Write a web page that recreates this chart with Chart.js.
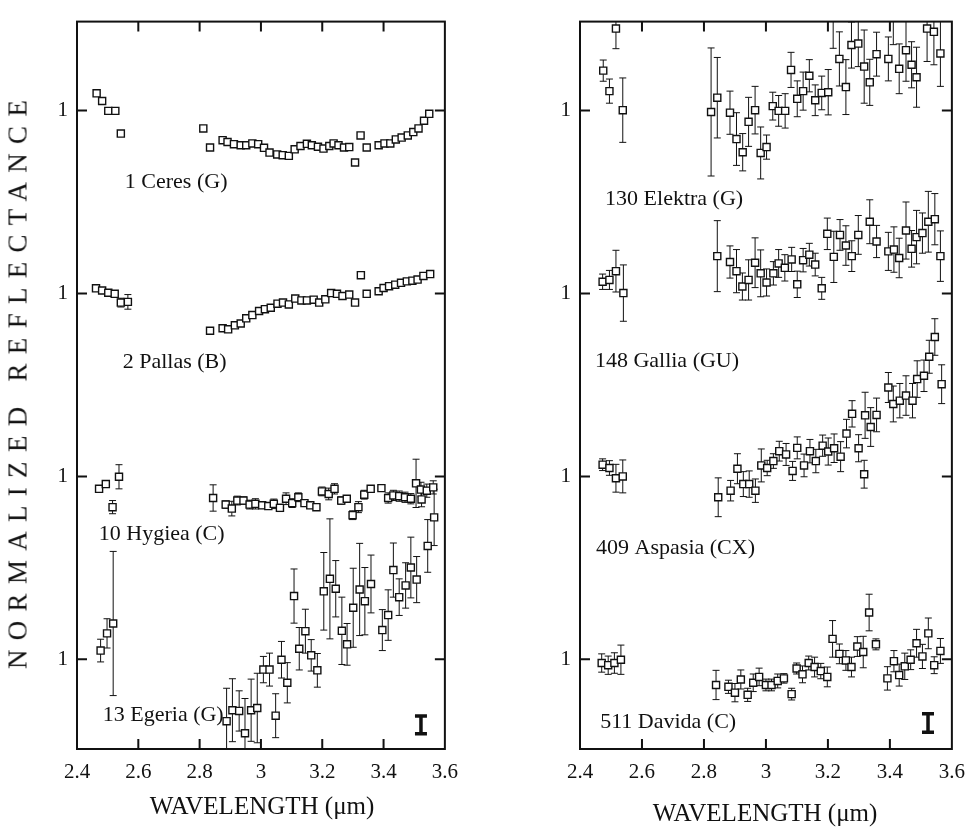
<!DOCTYPE html>
<html>
<head>
<meta charset="utf-8">
<script src="https://cdn.jsdelivr.net/npm/chart.js@4.4.1/dist/chart.umd.min.js"></script>
<style>
  body { margin: 0; background: #fff; width: 972px; height: 831px; position: relative; overflow: hidden;
         font-family: "Liberation Serif", "Times New Roman", serif; color: #111; }
  .panel { position: absolute; top: 0; height: 831px; }
  #wrap-left { left: 0; width: 469px; }
  #wrap-right { left: 480px; width: 496px; }
  .ytitle { position: absolute; left: 18px; top: 380px; transform: translate(-50%, -50%) rotate(-90deg);
            white-space: nowrap; font-size: 27px; line-height: 27px; letter-spacing: 9.3px; }
  .xtitle { position: absolute; font-size: 25px; line-height: 25px; white-space: nowrap; transform: translateX(-50%); }
</style>
</head>
<body>
<div class="panel" id="wrap-left"><canvas id="chart-left"></canvas></div>
<div class="panel" id="wrap-right"><canvas id="chart-right"></canvas></div>
<div class="ytitle">NORMALIZED REFLECTANCE</div>
<div class="xtitle" style="left:262px;top:793px">WAVELENGTH (μm)</div>
<div class="xtitle" style="left:765px;top:800px">WAVELENGTH (μm)</div>
<script>
// axes
const X_TICKS = [2.4, 2.6, 2.8, 3.0, 3.2, 3.4, 3.6];
const Y_TICKS = [1, 1.5, 2, 2.5];
const Y_MIN = 0.755, Y_MAX = 2.743;

// 1 Ceres
const ceresWl = [2.464, 2.482, 2.502, 2.525, 2.543, 2.812, 2.834, 2.875, 2.891, 2.912, 2.934, 2.952, 2.972, 2.991, 3.010,
  3.028, 3.053, 3.071, 3.091, 3.110, 3.129, 3.150, 3.166, 3.186, 3.204, 3.223, 3.237, 3.253, 3.271, 3.288, 3.307, 3.325,
  3.345, 3.384, 3.403, 3.422, 3.440, 3.459, 3.479, 3.497, 3.514, 3.532, 3.549];
const ceresR = [1.047, 1.026, 0.999, 0.999, 0.937, 0.951, 0.899, 0.919, 0.914, 0.908, 0.905, 0.905, 0.910, 0.908, 0.898,
  0.885, 0.880, 0.878, 0.876, 0.894, 0.903, 0.909, 0.905, 0.901, 0.896, 0.903, 0.910, 0.905, 0.899, 0.900, 0.858, 0.932,
  0.899, 0.905, 0.910, 0.910, 0.921, 0.926, 0.932, 0.941, 0.951, 0.972, 0.991];

// 2 Pallas
const pallasWl = [2.462, 2.482, 2.502, 2.523, 2.543, 2.566, 2.834, 2.875, 2.893, 2.915, 2.934, 2.952, 2.972, 2.994, 3.013,
  3.032, 3.054, 3.072, 3.091, 3.112, 3.132, 3.150, 3.172, 3.190, 3.210, 3.229, 3.248, 3.266, 3.288, 3.307, 3.326, 3.345,
  3.384, 3.400, 3.418, 3.438, 3.457, 3.476, 3.494, 3.511, 3.530, 3.552];
const pallasR = [1.014, 1.008, 1.002, 0.999, 0.975, 0.977, 0.898, 0.905, 0.902, 0.913, 0.918, 0.932, 0.941, 0.952, 0.957,
  0.961, 0.972, 0.975, 0.970, 0.986, 0.981, 0.981, 0.983, 0.975, 0.984, 1.001, 0.999, 0.993, 0.997, 0.975, 1.050, 0.999,
  1.006, 1.015, 1.020, 1.024, 1.029, 1.033, 1.035, 1.038, 1.048, 1.053];
const pallasErr = [0, 0, 0, 0, 0.012, 0.02, 0.008, 0, 0, 0, 0, 0, 0, 0, 0,
  0, 0, 0, 0, 0, 0, 0, 0, 0, 0, 0, 0, 0, 0, 0, 0, 0,
  0, 0, 0, 0, 0, 0, 0, 0, 0, 0];

// 10 Hygiea
const hygieaWl = [2.472, 2.494, 2.516, 2.537, 2.844, 2.885, 2.905, 2.923, 2.943, 2.963, 2.982, 3.004, 3.024, 3.042, 3.062,
  3.082, 3.102, 3.122, 3.142, 3.161, 3.181, 3.199, 3.221, 3.240, 3.262, 3.280, 3.299, 3.318, 3.337, 3.358, 3.393, 3.415,
  3.432, 3.451, 3.470, 3.489, 3.506, 3.522, 3.524, 3.541, 3.562];
const hygieaR = [0.966, 0.979, 0.916, 0.999, 0.941, 0.923, 0.912, 0.934, 0.934, 0.923, 0.925, 0.921, 0.919, 0.925, 0.914,
  0.939, 0.927, 0.943, 0.927, 0.921, 0.916, 0.959, 0.952, 0.966, 0.934, 0.939, 0.894, 0.916, 0.950, 0.966, 0.968, 0.941,
  0.948, 0.946, 0.943, 0.939, 0.981, 0.964, 0.937, 0.961, 0.970];
const hygieaErr = [0.005, 0.005, 0.018, 0.033, 0.036, 0.010, 0.020, 0.012, 0.010, 0.012, 0.014, 0.008, 0.008, 0.013, 0.010,
  0.016, 0.012, 0.012, 0.008, 0.006, 0.006, 0.012, 0.016, 0.014, 0.010, 0.008, 0.012, 0.015, 0.012, 0.008, 0.006, 0.014,
  0.014, 0.014, 0.014, 0.014, 0.066, 0.020, 0.020, 0.018, 0.018];

// 13 Egeria
const egeriaWl = [2.477, 2.498, 2.518, 2.888, 2.907, 2.929, 2.948, 2.968, 2.988, 3.008, 3.028, 3.048, 3.067, 3.086, 3.108,
  3.125, 3.145, 3.164, 3.184, 3.205, 3.225, 3.244, 3.264, 3.281, 3.301, 3.322, 3.339, 3.359, 3.396, 3.415, 3.432, 3.451,
  3.472, 3.489, 3.508, 3.544, 3.565];
const egeriaR = [1.024, 1.071, 1.098, 0.831, 0.861, 0.859, 0.798, 0.861, 0.867, 0.972, 0.972, 0.846, 0.999, 0.936, 1.173,
  1.029, 1.077, 1.011, 0.970, 1.186, 1.220, 1.193, 1.078, 1.041, 1.141, 1.191, 1.159, 1.206, 1.080, 1.121, 1.244, 1.170,
  1.202, 1.251, 1.218, 1.310, 1.388];
const egeriaErr = [0.031, 0.040, 0.197, 0.090, 0.086, 0.055, 0.095, 0.085, 0.095, 0.036, 0.045, 0.060, 0.050, 0.055, 0.074,
  0.058, 0.060, 0.043, 0.046, 0.106, 0.164, 0.077, 0.092, 0.057, 0.108, 0.126, 0.092, 0.079, 0.056, 0.069, 0.074, 0.050,
  0.062, 0.083, 0.063, 0.072, 0.077];

// 130 Elektra
const elektraWl = [2.475, 2.495, 2.516, 2.538, 2.823, 2.843, 2.884, 2.905, 2.925, 2.944, 2.965, 2.983, 3.002, 3.022, 3.041,
  3.062, 3.081, 3.101, 3.120, 3.140, 3.159, 3.180, 3.201, 3.217, 3.237, 3.258, 3.276, 3.298, 3.317, 3.335, 3.357, 3.395,
  3.411, 3.430, 3.452, 3.470, 3.486, 3.520, 3.542, 3.563];
const elektraR = [1.109, 1.053, 1.224, 1.001, 0.996, 1.035, 0.994, 0.922, 0.886, 0.969, 1.001, 0.884, 0.900, 1.012, 0.999,
  0.999, 1.111, 1.032, 1.053, 1.095, 1.028, 1.048, 1.050, 1.270, 1.141, 1.064, 1.179, 1.183, 1.120, 1.077, 1.154, 1.141,
  1.280, 1.114, 1.165, 1.125, 1.091, 1.224, 1.215, 1.156];
const elektraErr = [0.029, 0.033, 0.055, 0.088, 0.175, 0.110, 0.059, 0.072, 0.051, 0.067, 0.065, 0.071, 0.033, 0.038, 0.042,
  0.047, 0.048, 0.049, 0.052, 0.044, 0.042, 0.046, 0.062, 0.100, 0.074, 0.075, 0.063, 0.063, 0.100, 0.063, 0.060, 0.060,
  0.100, 0.068, 0.085, 0.063, 0.082, 0.090, 0.090, 0.090];

// 148 Gallia
const galliaWl = [2.473, 2.495, 2.516, 2.540, 2.843, 2.884, 2.905, 2.924, 2.944, 2.965, 2.983, 3.002, 3.024, 3.041, 3.061,
  3.083, 3.101, 3.120, 3.140, 3.159, 3.180, 3.198, 3.219, 3.239, 3.258, 3.277, 3.298, 3.335, 3.357, 3.395, 3.413, 3.430,
  3.452, 3.470, 3.486, 3.505, 3.524, 3.545, 3.563];
const galliaR = [1.032, 1.037, 1.061, 1.001, 1.102, 1.086, 1.061, 1.019, 1.037, 1.084, 1.055, 1.030, 1.055, 1.082, 1.070,
  1.093, 1.025, 1.091, 1.106, 1.079, 1.014, 1.163, 1.100, 1.160, 1.131, 1.102, 1.160, 1.196, 1.142, 1.115, 1.120, 1.097,
  1.172, 1.122, 1.154, 1.165, 1.196, 1.203, 1.102];
const galliaErr = [0.021, 0.026, 0.057, 0.077, 0.097, 0.044, 0.059, 0.037, 0.055, 0.068, 0.064, 0.037, 0.032, 0.038, 0.036,
  0.033, 0.036, 0.032, 0.031, 0.031, 0.030, 0.043, 0.070, 0.042, 0.054, 0.042, 0.053, 0.060, 0.044, 0.052, 0.062, 0.054,
  0.078, 0.050, 0.073, 0.055, 0.083, 0.070, 0.069];

// 409 Aspasia
const aspasiaWl = [2.473, 2.495, 2.516, 2.538, 2.846, 2.886, 2.908, 2.927, 2.946, 2.966, 2.985, 3.004, 3.024, 3.043, 3.065,
  3.086, 3.101, 3.123, 3.142, 3.161, 3.183, 3.201, 3.220, 3.241, 3.260, 3.278, 3.299, 3.317, 3.320, 3.338, 3.357, 3.395,
  3.411, 3.432, 3.452, 3.473, 3.488, 3.510, 3.527, 3.545, 3.567];
const aspasiaR = [1.032, 1.023, 0.995, 1.000, 0.943, 0.961, 1.021, 0.979, 0.979, 0.961, 1.030, 1.023, 1.042, 1.069, 1.060,
  1.015, 1.078, 1.030, 1.069, 1.042, 1.084, 1.068, 1.077, 1.054, 1.117, 1.171, 1.077, 1.006, 1.167, 1.135, 1.168, 1.243,
  1.198, 1.207, 1.221, 1.207, 1.266, 1.275, 1.327, 1.381, 1.252];
const aspasiaErr = [0.016, 0.020, 0.038, 0.045, 0.053, 0.028, 0.041, 0.034, 0.036, 0.032, 0.045, 0.021, 0.020, 0.027, 0.030,
  0.026, 0.030, 0.031, 0.032, 0.032, 0.029, 0.037, 0.039, 0.041, 0.039, 0.036, 0.037, 0.038, 0.063, 0.053, 0.046, 0.041,
  0.049, 0.047, 0.054, 0.047, 0.050, 0.043, 0.045, 0.050, 0.053];

// 511 Davida
const davidaWl = [2.470, 2.491, 2.511, 2.532, 2.839, 2.879, 2.900, 2.919, 2.941, 2.959, 2.978, 3.000, 3.018, 3.038, 3.058,
  3.083, 3.099, 3.118, 3.138, 3.157, 3.177, 3.198, 3.215, 3.237, 3.258, 3.276, 3.295, 3.314, 3.333, 3.355, 3.392, 3.413,
  3.430, 3.448, 3.467, 3.486, 3.505, 3.524, 3.543, 3.563];
const davidaR = [0.990, 0.984, 0.990, 0.999, 0.930, 0.925, 0.909, 0.945, 0.903, 0.936, 0.952, 0.930, 0.930, 0.941, 0.948,
  0.905, 0.975, 0.959, 0.990, 0.979, 0.968, 0.952, 1.056, 1.015, 0.997, 0.979, 1.035, 1.020, 1.128, 1.041, 0.948, 0.995,
  0.957, 0.981, 0.999, 1.044, 1.008, 1.071, 0.984, 1.023];
const davidaErr = [0.025, 0.025, 0.028, 0.040, 0.040, 0.018, 0.025, 0.026, 0.018, 0.024, 0.024, 0.016, 0.016, 0.019, 0.013,
  0.016, 0.015, 0.023, 0.019, 0.027, 0.021, 0.027, 0.050, 0.027, 0.027, 0.027, 0.027, 0.043, 0.050, 0.015, 0.032, 0.029,
  0.030, 0.036, 0.027, 0.038, 0.033, 0.042, 0.023, 0.034];

// typical error bar shown bottom right of each panel: [wavelength, level, half-length]
const typicalLeft = [3.522, 0.821, 0.024];
const typicalRight = [3.523, 0.826, 0.025];

const leftSpectra = [
  { name: '1 Ceres (G)', wl: ceresWl, r: ceresR, err: null, offset: 1.5, label: [2.556, 2.303] },
  { name: '2 Pallas (B)', wl: pallasWl, r: pallasR, err: pallasErr, offset: 1.0, label: [2.549, 1.811] },
  { name: '10 Hygiea (C)', wl: hygieaWl, r: hygieaR, err: hygieaErr, offset: 0.5, label: [2.471, 1.341] },
  { name: '13 Egeria (G)', wl: egeriaWl, r: egeriaR, err: egeriaErr, offset: 0, label: [2.484, 0.846] },
];
const rightSpectra = [
  { name: '130 Elektra (G)', wl: elektraWl, r: elektraR, err: elektraErr, offset: 1.5, label: [2.481, 2.257] },
  { name: '148 Gallia (GU)', wl: galliaWl, r: galliaR, err: galliaErr, offset: 1.0, label: [2.448, 1.816] },
  { name: '409 Aspasia (CX)', wl: aspasiaWl, r: aspasiaR, err: aspasiaErr, offset: 0.5, label: [2.452, 1.303] },
  { name: '511 Davida (C)', wl: davidaWl, r: davidaR, err: davidaErr, offset: 0, label: [2.465, 0.827] },
];

const INK = '#111';
const SERIF = '"Liberation Serif", "Times New Roman", serif';
const FONT = { family: SERIF, size: 21 };

// error bars under the squares, clipped to the frame
const errorBars = {
  id: 'errorBars',
  beforeDatasetsDraw(chart) {
    const { ctx, chartArea: a, scales: { x, y } } = chart;
    ctx.save();
    ctx.beginPath();
    ctx.rect(a.left, a.top, a.width, a.height);
    ctx.clip();
    ctx.strokeStyle = INK;
    chart.data.datasets.forEach((ds) => {
      if (!ds.err) return;
      ctx.lineWidth = ds.errWidth || 1;
      const c = ds.capHalf || 3.5;
      ds.data.forEach((p, i) => {
        const e = ds.err[i];
        if (!e) return;
        const px = x.getPixelForValue(p.x);
        const y1 = y.getPixelForValue(p.y + e);
        const y2 = y.getPixelForValue(p.y - e);
        ctx.beginPath();
        ctx.moveTo(px, y1); ctx.lineTo(px, y2);
        ctx.moveTo(px - c, y1); ctx.lineTo(px + c, y1);
        ctx.moveTo(px - c, y2); ctx.lineTo(px + c, y2);
        ctx.stroke();
      });
    });
    ctx.restore();
  },
};

// box frame with inward ticks on all four sides, plus spectrum names
const frame = {
  id: 'frame',
  afterDraw(chart) {
    const { ctx, chartArea: a, scales: { x, y } } = chart;
    ctx.save();
    ctx.strokeStyle = INK;
    ctx.lineWidth = 2;
    ctx.strokeRect(a.left, a.top, a.width, a.height);
    ctx.beginPath();
    for (const v of X_TICKS.slice(1, -1)) {
      const px = x.getPixelForValue(v);
      ctx.moveTo(px, a.bottom); ctx.lineTo(px, a.bottom - 10);
      ctx.moveTo(px, a.top); ctx.lineTo(px, a.top + 10);
    }
    for (const v of Y_TICKS) {
      const py = y.getPixelForValue(v);
      ctx.moveTo(a.left, py); ctx.lineTo(a.left + 10, py);
      ctx.moveTo(a.right, py); ctx.lineTo(a.right - 10, py);
    }
    ctx.stroke();

    ctx.fillStyle = INK;
    ctx.font = `22px ${SERIF}`;
    ctx.textBaseline = 'middle';
    ctx.textAlign = 'left';
    for (const s of chart.options.plugins.frame.spectra) {
      ctx.fillText(s.name, x.getPixelForValue(s.label[0]), y.getPixelForValue(s.label[1]));
    }
    ctx.restore();
  },
};

function buildPanel(canvasId, spectra, typical, axisWidth, pad) {
  const datasets = spectra.map((s) => ({
    data: s.wl.map((w, i) => ({ x: w, y: s.r[i] + s.offset })),
    err: s.err,
    pointStyle: 'rect',
    pointRadius: 5,
    pointBackgroundColor: '#fff',
    pointBorderColor: INK,
    pointBorderWidth: 1.4,
    showLine: false,
    clip: 0,
  }));
  datasets.push({
    data: [{ x: typical[0], y: typical[1] }],
    err: [typical[2]],
    errWidth: 3.5,
    capHalf: 6,
    pointRadius: 0,
    showLine: false,
  });

  return new Chart(document.getElementById(canvasId), {
    type: 'scatter',
    data: { datasets },
    options: {
      responsive: true,
      maintainAspectRatio: false,
      animation: false,
      layout: { padding: pad, autoPadding: false },
      plugins: { legend: { display: false }, tooltip: { enabled: false }, frame: { spectra } },
      scales: {
        x: {
          min: 2.4, max: 3.6,
          afterBuildTicks: (sc) => { sc.ticks = X_TICKS.map((v) => ({ value: v })); },
          afterFit: (sc) => { sc.height = 82; },
          ticks: { color: INK, font: FONT, padding: 11, maxRotation: 0, callback: (v) => String(+v.toFixed(1)) },
          grid: { display: false, drawTicks: false },
          border: { display: false },
        },
        y: {
          min: Y_MIN, max: Y_MAX,
          afterBuildTicks: (sc) => { sc.ticks = Y_TICKS.map((v) => ({ value: v })); },
          afterFit: (sc) => { sc.width = axisWidth; },
          ticks: { color: INK, font: FONT, padding: 9, callback: () => '1' },
          grid: { display: false, drawTicks: false },
          border: { display: false },
        },
      },
    },
    plugins: [errorBars, frame],
  });
}

buildPanel('chart-left', leftSpectra, typicalLeft, 77, { top: 13, right: 15, left: 0, bottom: 0 });
buildPanel('chart-right', rightSpectra, typicalRight, 100, { top: 14, right: 20, left: 0, bottom: 0 });
</script>
</body>
</html>
